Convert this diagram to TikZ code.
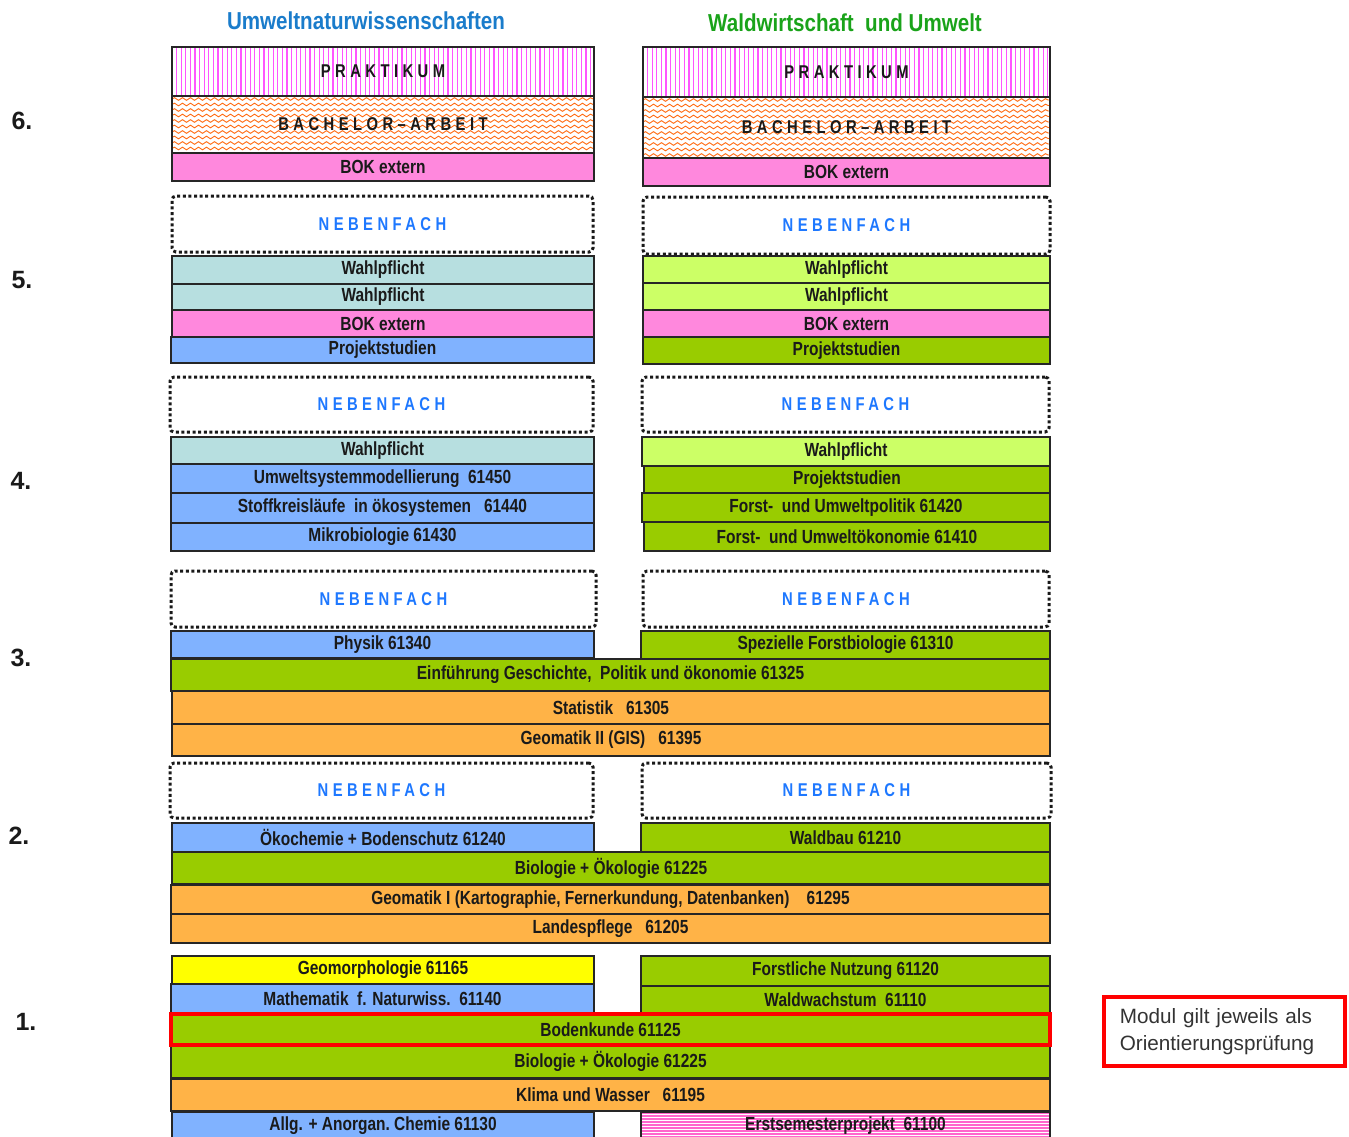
\documentclass[tikz,border=0pt]{standalone}
\usepackage{fontspec}
\setmainfont{Liberation Sans}
\newfontfamily\nf{Liberation Sans}[FakeStretch=0.815]
\newfontfamily\spf{Liberation Sans}[FakeStretch=0.8, LetterSpace=24]
\newfontfamily\hf{Liberation Sans}[FakeStretch=0.84]
\usetikzlibrary{decorations.pathmorphing}
\definecolor{cblue}{HTML}{80B2FF}
\definecolor{ccyan}{HTML}{B7DFE0}
\definecolor{cpink}{HTML}{FF88DD}
\definecolor{cgreen}{HTML}{99CC00}
\definecolor{clgreen}{HTML}{CCFF66}
\definecolor{corange}{HTML}{FFB347}
\definecolor{cyellow}{HTML}{FFFF00}
\definecolor{nbblue}{HTML}{1E78FF}
\definecolor{hblue}{HTML}{1A7CCB}
\definecolor{hgreen}{HTML}{1AA31A}
\definecolor{pmag}{HTML}{FF55FF}
\definecolor{wav}{HTML}{FF6A10}
\definecolor{epink}{HTML}{FF66CC}
\definecolor{ink}{HTML}{1A1A1A}
\tikzset{
  cell/.style={draw=black!85, line width=1.2pt, inner sep=0pt, outer sep=0pt,
    font=\nf\bfseries\fontsize{19}{19}\selectfont, text=ink},
  blu/.style={cell, fill=cblue},
  cya/.style={cell, fill=ccyan},
  pnk/.style={cell, fill=cpink},
  grn/.style={cell, fill=cgreen},
  lgr/.style={cell, fill=clgreen},
  orn/.style={cell, fill=corange},
  yel/.style={cell, fill=cyellow},
  prak/.style={cell, fill=white, font=\spf\bfseries\fontsize{18.5}{18.5}\selectfont,
    path picture={\foreach \i in {1,...,95}{\draw[pmag, line width=1.3pt]
      ([xshift=\i*4.6pt]path picture bounding box.south west) --
      ([xshift=\i*4.6pt]path picture bounding box.north west);}}},
  bach/.style={cell, fill=white, font=\spf\bfseries\fontsize{18.5}{18.5}\selectfont,
    path picture={\foreach \j in {0,...,11}{\draw[wav, line width=0.9pt, decorate,
      decoration={snake, segment length=8pt, amplitude=1.3pt}]
      ([yshift=-\j*5.5pt-3pt]path picture bounding box.north west) --
      ([yshift=-\j*5.5pt-3pt]path picture bounding box.north east);}}},
  erst/.style={cell, fill=white,
    path picture={\foreach \j in {0,...,12}{\draw[epink, line width=1.1pt]
      ([yshift=-\j*3pt-1pt]path picture bounding box.north west) --
      ([yshift=-\j*3pt-1pt]path picture bounding box.north east);}}},
  neben/.style={draw=black!90, line width=3pt, dash pattern=on 3pt off 2.6pt,
    rounded corners=4pt, fill=white, inner sep=0pt, outer sep=0pt,
    font=\spf\bfseries\fontsize{18.5}{18.5}\selectfont, text=nbblue},
  hdr/.style={font=\hf\bfseries\fontsize{24.5}{25}\selectfont, inner sep=0pt},
  sem/.style={font=\bfseries\fontsize{25}{25}\selectfont, inner sep=0pt, text=ink},
}
\newcommand\cell[7]{\node[#2, anchor=north west, minimum width={(#5-#3)*1pt},
  minimum height={(#6-#4)*1pt}] (#1) at (#3,#4) {#7};}
\begin{document}
\begin{tikzpicture}[x=1pt, y=-1pt]
\useasboundingbox (0,0) rectangle (1349,1137);
\fill[white] (0,0) rectangle (1349,1137);
% headers
\node[hdr, text=hblue] (h1) at (366,21) {Umweltnaturwissenschaften};
\node[hdr, text=hgreen] (h2) at (845,23) {Waldwirtschaft\ \ und Umwelt};
% semester labels
\node[sem] (s6) at (22,121) {6.};
\node[sem] (s5) at (22,280) {5.};
\node[sem] (s4) at (21,481) {4.};
\node[sem] (s3) at (21,658) {3.};
\node[sem] (s2) at (19,836) {2.};
\node[sem] (s1) at (26,1022) {1.};
% semester 6
\cell{pL6}{prak}{172}{47}{594}{96}{PRAKTIKUM}
\cell{bL6}{bach}{172}{96}{594}{153}{BACHELOR–ARBEIT}
\cell{kL6}{pnk}{172}{153}{594}{181}{BOK extern}
\cell{pR6}{prak}{643}{47}{1050}{97}{PRAKTIKUM}
\cell{bR6}{bach}{643}{97}{1050}{158}{BACHELOR–ARBEIT}
\cell{kR6}{pnk}{643}{158}{1050}{186}{BOK extern}
% semester 5
\cell{nL5}{neben}{172}{196}{593}{252}{NEBENFACH}
\cell{w1L5}{cya}{172}{256}{594}{284}{Wahlpflicht}
\cell{w2L5}{cya}{172}{284}{594}{310}{Wahlpflicht}
\cell{kL5}{pnk}{172}{310}{594}{337}{BOK extern}
\cell{pL5}{blu}{171}{337}{594}{363}{Projektstudien}
\cell{nR5}{neben}{643}{197}{1050}{254}{NEBENFACH}
\cell{w1R5}{lgr}{643}{256}{1050}{283}{Wahlpflicht}
\cell{w2R5}{lgr}{643}{283}{1050}{310}{Wahlpflicht}
\cell{kR5}{pnk}{643}{310}{1050}{337}{BOK extern}
\cell{pR5}{grn}{643}{337}{1050}{364}{Projektstudien}
% semester 4
\cell{nL4}{neben}{170}{377}{593}{432}{NEBENFACH}
\cell{wL4}{cya}{171}{437}{594}{464}{Wahlpflicht}
\cell{uL4}{blu}{171}{464}{594}{493}{Umweltsystemmodellierung\ \ 61450}
\cell{sL4}{blu}{171}{493}{594}{523}{Stoffkreisläufe\ \ in ökosystemen\ \ \ 61440}
\cell{mL4}{blu}{171}{523}{594}{551}{Mikrobiologie 61430}
\cell{nR4}{neben}{642}{377}{1049}{432}{NEBENFACH}
\cell{wR4}{lgr}{642}{437}{1050}{466}{Wahlpflicht}
\cell{pR4}{grn}{644}{466}{1050}{493}{Projektstudien}
\cell{fR4}{grn}{642}{493}{1050}{522}{Forst-\ \ und Umweltpolitik 61420}
\cell{oR4}{grn}{644}{522}{1050}{551}{Forst-\ \ und Umweltökonomie 61410}
% semester 3
\cell{nL3}{neben}{171}{571}{596}{627}{NEBENFACH}
\cell{nR3}{neben}{643}{571}{1049}{627}{NEBENFACH}
\cell{phL3}{blu}{171}{631}{594}{658}{Physik 61340}
\cell{spR3}{grn}{641}{631}{1050}{659}{Spezielle Forstbiologie 61310}
\cell{ein3}{grn}{171}{659}{1050}{691}{Einführung Geschichte,\ \ Politik und ökonomie 61325}
\cell{st3}{orn}{172}{691}{1050}{724}{Statistik\ \ \ 61305}
\cell{ge3}{orn}{172}{724}{1050}{756}{Geomatik II (GIS)\ \ \ 61395}
% semester 2
\cell{nL2}{neben}{170}{763}{593}{818}{NEBENFACH}
\cell{nR2}{neben}{642}{763}{1051}{818}{NEBENFACH}
\cell{oeL2}{blu}{172}{823}{594}{852}{Ökochemie + Bodenschutz 61240}
\cell{wbR2}{grn}{641}{823}{1050}{852}{Waldbau 61210}
\cell{bio2}{grn}{172}{852}{1050}{884}{Biologie + Ökologie 61225}
\cell{gm2}{orn}{171}{885}{1050}{914}{Geomatik I (Kartographie, Fernerkundung, Datenbanken)\ \ \ \ 61295}
\cell{lp2}{orn}{171}{914}{1050}{943}{Landespflege\ \ \ 61205}
% semester 1
\cell{gmL1}{yel}{172}{956}{594}{984}{Geomorphologie 61165}
\cell{maL1}{blu}{171}{984}{594}{1013}{Mathematik\ \ f. Naturwiss.\ \ 61140}
\cell{fnR1}{grn}{641}{956}{1050}{986}{Forstliche Nutzung 61120}
\cell{wwR1}{grn}{641}{986}{1050}{1014}{Waldwachstum\ \ 61110}
\cell{bi1}{grn}{171}{1045}{1050}{1078}{Biologie + Ökologie 61225}
\cell{kw1}{orn}{171}{1079}{1050}{1111}{Klima und Wasser\ \ \ 61195}
\cell{acL1}{blu}{172}{1112}{594}{1139}{Allg. + Anorgan.\ Chemie 61130}
\cell{esR1}{erst}{641}{1112}{1050}{1139}{Erstsemesterprojekt\ \ 61100}
\cell{bk1}{grn, draw=red, line width=3.6pt}{171}{1014}{1050}{1045}{Bodenkunde 61125}
% note
\node[draw=red, line width=3.6pt, anchor=north west, inner xsep=16pt, inner ysep=0pt,
  text width=209pt, minimum height=69pt, align=left, text=black!80,
  font=\fontsize{20.7}{27}\selectfont] (note) at (1102,995)
  {Modul\ gilt jeweils\ als\\Orientierungsprüfung};
\end{tikzpicture}
\end{document}
